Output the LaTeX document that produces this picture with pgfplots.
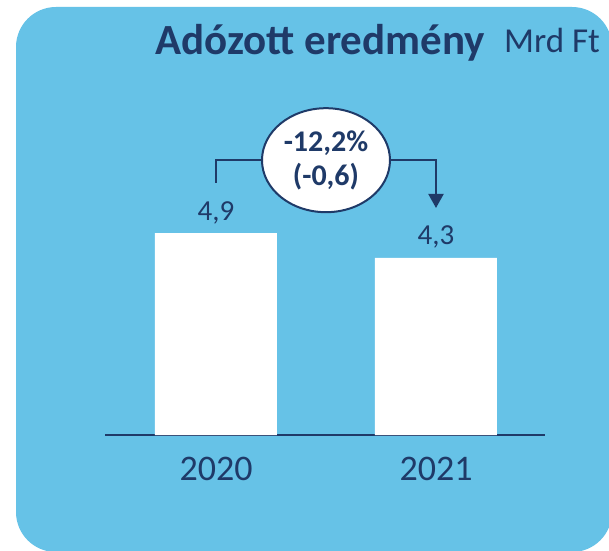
\documentclass[border=0pt]{standalone}
\usepackage{pgfplots}
\pgfplotsset{compat=1.18}
\usetikzlibrary{arrows.meta,shapes.geometric}
\usepackage{fontspec}
\setmainfont{Carlito}
\definecolor{panel}{RGB}{102,194,231}
\definecolor{navy}{RGB}{31,58,104}

\begin{document}
\begin{tikzpicture}[x=1pt,y=1pt]
  \path[use as bounding box, fill=white] (0,0) rectangle (609,550);
  \begin{scope}
    \clip (0,0) rectangle (609,550);
    \fill[panel, rounded corners=40pt] (16,-2) rectangle (612,543);
  \end{scope}

  % title
  \node[anchor=base west, inner sep=0pt, text=navy, font=\fontsize{43}{48}\selectfont\bfseries] at (155,495) {Adózott eredmény};
  \node[anchor=base west, inner sep=0pt, text=navy, font=\fontsize{35}{40}\selectfont] at (504,497) {Mrd Ft};

  \begin{axis}[
    at={(105pt,115pt)}, anchor=south west,
    width=440pt, height=412pt, scale only axis,
    xmin=-0.5045, xmax=1.4955, ymin=0, ymax=10,
    axis x line=bottom, axis y line=none,
    axis line style={-, navy, line width=1.5pt},
    xtick=data, xticklabels={2020,2021},
    xtick style={draw=none}, major tick length=0pt,
    xticklabel style={anchor=base, yshift=-45pt, inner sep=0pt, text=navy,
      font=\fontsize{36}{40}\selectfont},
    ybar, bar width=122pt,
    nodes near coords,
    nodes near coords style={anchor=base, yshift=13pt, inner sep=0pt, text=navy,
      font=\fontsize{29}{32}\selectfont},
    /pgf/number format/use comma,
    /pgf/number format/fixed,
    /pgf/number format/precision=1,
    /pgf/number format/fixed zerofill,
    /pgf/number format/assume math mode=true,
    clip=false
  ]
    \addplot[fill=white, draw=none] coordinates {(0,4.9) (1,4.3)};

    % change bracket
    \draw[navy, line width=2pt, -{Triangle[width=15pt,length=14pt]}]
      (axis cs:0,6.12) |- (axis cs:1,6.67) -- (axis cs:1,5.51);
    \node[ellipse, draw=navy, fill=white, line width=2pt, minimum width=128pt,
      minimum height=104pt, inner sep=0pt, align=center, text=navy,
      font=\fontsize{30}{34}\selectfont\bfseries]
      at (axis cs:0.5,6.67) {-12,2\%\\(-0,6)};
  \end{axis}
\end{tikzpicture}
\end{document}
